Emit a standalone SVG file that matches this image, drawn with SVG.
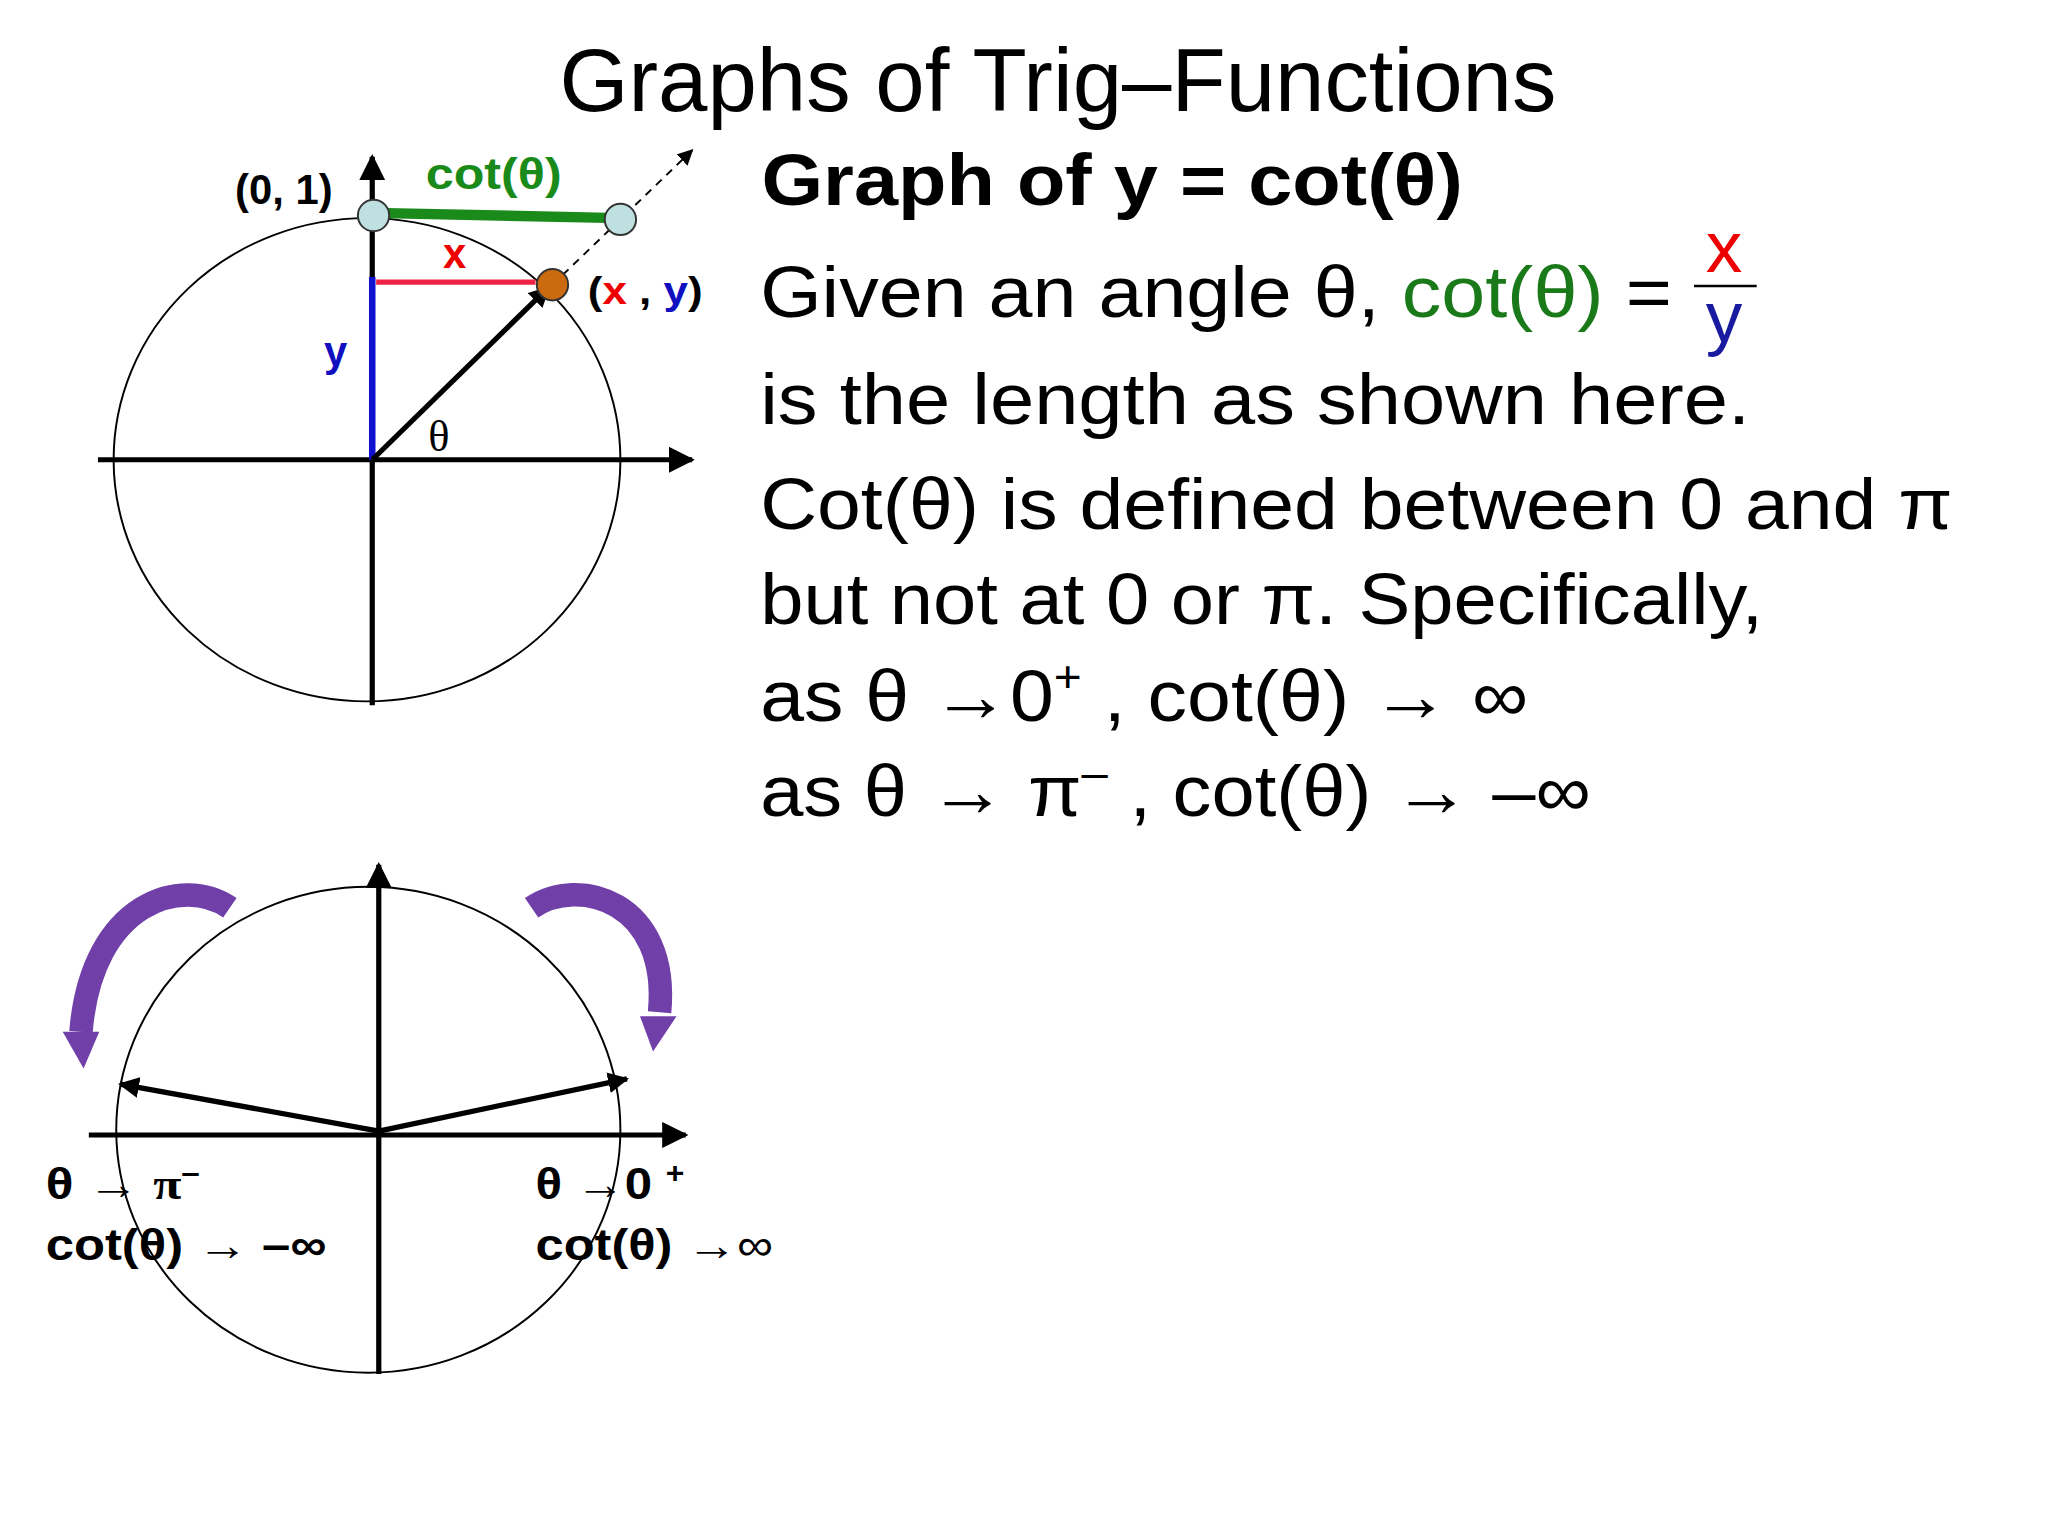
<svg xmlns="http://www.w3.org/2000/svg" width="2048" height="1536" viewBox="0 0 2048 1536">
<style>
.s{font-family:"Liberation Sans",Arial,sans-serif}
.b{font-family:"Liberation Sans",Arial,sans-serif;font-weight:bold}
.ax{stroke:#000;stroke-width:4;fill:none}
</style>
<defs>
<marker id="ah" viewBox="0 0 10 10" refX="9" refY="5" markerWidth="5" markerHeight="5" orient="auto"><path d="M0,0L10,5L0,10z" fill="#000"/></marker>
<marker id="ah2" viewBox="0 0 10 10" refX="9" refY="5" markerWidth="4" markerHeight="4" orient="auto"><path d="M0,0L10,5L0,10z" fill="#000"/></marker>
<marker id="ah3" viewBox="0 0 10 10" refX="9" refY="5" markerWidth="8" markerHeight="8" orient="auto"><path d="M0,0L10,5L0,10z" fill="#000"/></marker>
</defs>
<rect width="2048" height="1536" fill="#fff"/>
<g transform="scale(1.3061)">
<g id="text">
<text class="s" x="810" y="85" font-size="68" text-anchor="middle">Graphs of Trig–Functions</text>
<text class="b" x="583" y="157" font-size="56" textLength="537" lengthAdjust="spacingAndGlyphs">Graph of y = cot(θ)</text>
<text class="s" x="582" y="243" font-size="56" textLength="698" lengthAdjust="spacingAndGlyphs">Given an angle θ, <tspan fill="#1a7a1a">cot(θ)</tspan> =</text>
<text class="s" x="1320" y="208" font-size="56" fill="#e00" text-anchor="middle">x</text>
<line x1="1297" y1="219" x2="1345" y2="219" stroke="#000" stroke-width="2"/>
<text class="s" x="1320" y="262" font-size="56" fill="#1a1aa0" text-anchor="middle">y</text>
<text class="s" x="582" y="325" font-size="56" textLength="758" lengthAdjust="spacingAndGlyphs">is the length as shown here.</text>
<text class="s" x="582" y="405" font-size="56" textLength="913" lengthAdjust="spacingAndGlyphs">Cot(θ) is defined between 0 and π</text>
<text class="s" x="582" y="478" font-size="56" textLength="768" lengthAdjust="spacingAndGlyphs">but not at 0 or π. Specifically,</text>
<text class="s" x="582" y="552" font-size="56" textLength="588" lengthAdjust="spacingAndGlyphs">as θ →0<tspan font-size="34" dy="-22">+</tspan><tspan dy="22"> , cot(θ) → ∞</tspan></text>
<text class="s" x="582" y="625" font-size="56" textLength="636" lengthAdjust="spacingAndGlyphs">as θ → π<tspan font-size="34" dy="-22">–</tspan><tspan dy="22"> , cot(θ) → –∞</tspan></text>
</g>
<g id="top-circle">
<ellipse cx="281" cy="352" rx="194" ry="185" fill="none" stroke="#000" stroke-width="1.5"/>
<line class="ax" x1="75" y1="352" x2="530" y2="352" marker-end="url(#ah)"/>
<line class="ax" x1="285" y1="540" x2="285" y2="120" marker-end="url(#ah)" stroke-width="3"/>
<line x1="423" y1="218" x2="530" y2="115" stroke="#000" stroke-width="1.5" stroke-dasharray="6,5" marker-end="url(#ah3)"/>
<line x1="285" y1="352" x2="285" y2="212" stroke="#1010d0" stroke-width="5"/>
<line x1="288" y1="216" x2="410" y2="216" stroke="#ee2244" stroke-width="4"/>
<line x1="286" y1="163" x2="474" y2="167" stroke="#1a8a1a" stroke-width="8"/>
<line class="ax" x1="285" y1="352" x2="420" y2="220" stroke-width="5" marker-end="url(#ah2)"/>
<circle cx="423" cy="218" r="12" fill="#cc6a10" stroke="#333" stroke-width="1.5"/>
<circle cx="286" cy="165" r="12" fill="#bfe0e0" stroke="#333" stroke-width="1.5"/>
<circle cx="475" cy="168" r="12" fill="#bfe0e0" stroke="#333" stroke-width="1.5"/>
<text class="b" x="180" y="156" font-size="32">(0, 1)</text>
<text class="b" x="326" y="145" font-size="34" fill="#1a8a1a" textLength="104" lengthAdjust="spacingAndGlyphs">cot(θ)</text>
<text class="b" x="348" y="205" font-size="32" fill="#e00" text-anchor="middle">x</text>
<text class="b" x="450" y="233" font-size="30" textLength="88" lengthAdjust="spacingAndGlyphs">(<tspan fill="#e00">x</tspan> , <tspan fill="#1010c0">y</tspan>)</text>
<text class="b" x="257" y="280" font-size="32" fill="#1010c0" text-anchor="middle">y</text>
<text x="336" y="345" font-size="34" font-family="Liberation Serif,serif" text-anchor="middle">θ</text>
</g>
<g id="bottom-circle">
<ellipse cx="282" cy="865" rx="193" ry="186" fill="none" stroke="#000" stroke-width="1.5"/>
<line class="ax" x1="68" y1="869" x2="525" y2="869" marker-end="url(#ah)"/>
<line class="ax" x1="290" y1="1052" x2="290" y2="662" marker-end="url(#ah)"/>
<line class="ax" x1="290" y1="866" x2="92" y2="830" stroke-width="5" marker-end="url(#ah2)"/>
<line class="ax" x1="290" y1="866" x2="480" y2="826" stroke-width="5" marker-end="url(#ah2)"/>
<path d="M176,695 C140,670 70,690 62,790" fill="none" stroke="#7040a8" stroke-width="18"/>
<polygon points="48,790 76,790 64,818" fill="#7040a8"/>
<path d="M407,695 C443,670 513,690 505,775" fill="none" stroke="#7040a8" stroke-width="18"/>
<polygon points="490,778 518,778 500,805" fill="#7040a8"/>
<text class="b" x="35" y="918" font-size="34" textLength="118" lengthAdjust="spacingAndGlyphs">θ <tspan font-weight="normal">→</tspan> <tspan font-family="Liberation Serif,serif">π</tspan><tspan font-size="22" dy="-12">–</tspan></text>
<text class="b" x="35" y="965" font-size="34" textLength="215" lengthAdjust="spacingAndGlyphs">cot(θ) <tspan font-weight="normal">→</tspan> –∞</text>
<text class="b" x="410" y="918" font-size="34" textLength="114" lengthAdjust="spacingAndGlyphs">θ <tspan font-weight="normal">→</tspan>0 <tspan font-size="22" dy="-12">+</tspan></text>
<text class="b" x="410" y="965" font-size="34" textLength="182" lengthAdjust="spacingAndGlyphs">cot(θ) <tspan font-weight="normal">→∞</tspan></text>
</g>
</g>
</svg>
